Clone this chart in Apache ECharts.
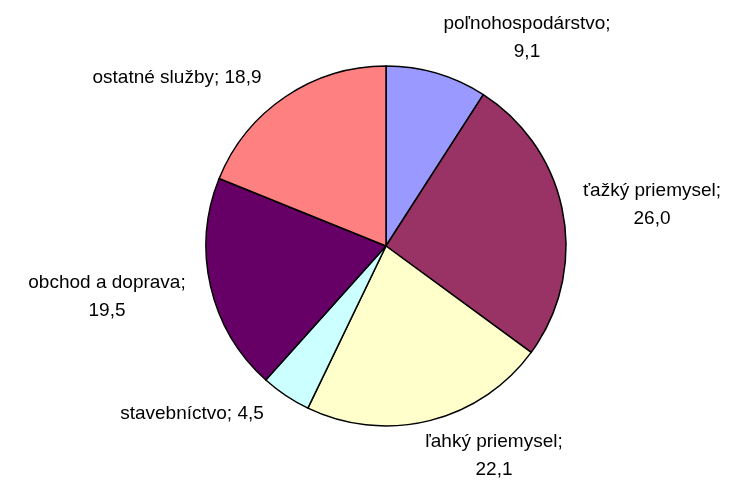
<!DOCTYPE html>
<html>
<head>
<meta charset="utf-8">
<script src="https://cdn.jsdelivr.net/npm/echarts@6/dist/echarts.min.js"></script>
<style>
html, body { margin: 0; padding: 0; background: #fff; }
#chart { width: 739px; height: 482px; }
</style>
</head>
<body>
<div id="chart"></div>
<script>
var sectors = ['poľnohospodárstvo', 'ťažký priemysel', 'ľahký priemysel', 'stavebníctvo', 'obchod a doprava', 'ostatné služby'];
var shares = [9.1, 26.0, 22.1, 4.5, 19.5, 18.9];
var sliceColors = ['#9999FF', '#993366', '#FFFFCC', '#CCFFFF', '#660066', '#FF8080'];
// label on two lines?
var twoLines = [true, true, true, false, true, false];
// label centres (Excel style placement)
var labelPos = [[527, 38], [652, 205], [494, 456], [192, 414], [107, 297], [177, 78]];

var myChart = echarts.init(document.getElementById('chart'));

var option = {
	animation: false,
	series: [{
		type: 'pie',
		center: [386, 246],
		radius: 180,
		startAngle: 90,
		clockwise: true,
		data: sectors.map(function (s, i) {
			return { name: s, value: shares[i], itemStyle: { color: sliceColors[i] } };
		}),
		itemStyle: {
			borderColor: '#000',
			borderWidth: 1.5
		},
		label: {
			show: true,
			position: 'outside',
			overflow: 'none',
			fontFamily: 'Liberation Sans, Arial, sans-serif',
			fontSize: 19,
			lineHeight: 28,
			color: '#000',
			align: 'center',
			formatter: function (p) {
				var v = p.value.toFixed(1).replace('.', ',');
				return p.name + ';' + (twoLines[p.dataIndex] ? '\n' : ' ') + v;
			}
		},
		labelLine: { show: false },
		labelLayout: function (p) {
			var pos = labelPos[p.dataIndex];
			return { x: pos[0], y: pos[1], align: 'center', verticalAlign: 'middle' };
		},
		emphasis: { disabled: true }
	}]
};
myChart.setOption(option);
</script>
</body>
</html>
